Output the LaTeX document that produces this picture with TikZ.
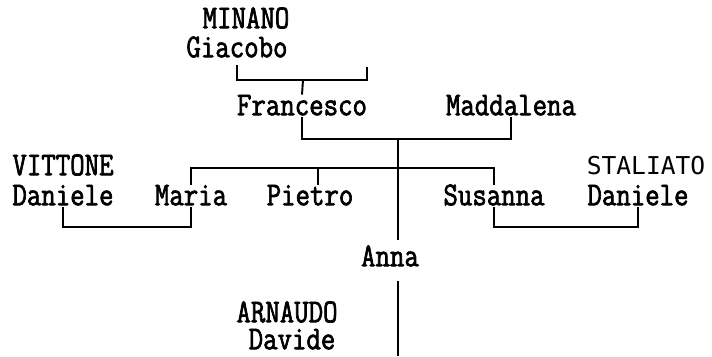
\documentclass[tikz,border=0pt]{standalone}
\usepackage{fontspec}
\setmonofont[FakeStretch=0.84,FakeBold=2]{Latin Modern Mono}
\newfontfamily\sansmono{DejaVu Sans Mono}
\usetikzlibrary{positioning}

\begin{document}
\begin{tikzpicture}[
  x=0.02cm, y=-0.02cm,
  person/.style={font=\fontsize{19}{21}\ttfamily, inner sep=0pt, text height=11.5pt, text depth=1pt},
  altname/.style={font=\fontsize{14}{16}\sansmono, inner sep=0pt},
  tie/.style={line width=1.1pt},
]
\useasboundingbox (0,0) rectangle (712,356);

% ---- grandparents
\node[person] (minano) at (246,19) {MINANO};
\node[person] (giacobo) at (237,48) {Giacobo};
\coordinate (gm) at (303,80);
\coordinate (gs) at (367,67);

% ---- parents
\node[person] (francesco) at (302,106) {Francesco};
\node[person] (maddalena) at (511,106) {Maddalena};
\coordinate (fm) at (398,139);
\coordinate (kids) at (398,168);

% ---- children and spouses
\node[person] (vittone) at (63,166) {VITTONE};
\node[person] (daniele1) at (63,196) {Daniele};
\node[person] (maria) at (191,196) {Maria};
\node[person] (pietro) at (310,196) {Pietro};
\node[person] (susanna) at (494,196) {Susanna};
\node[altname] (staliato) at (646,166) {STALIATO};
\node[person] (daniele2) at (638,196) {Daniele};
\coordinate (dm) at (127,227);
\coordinate (sm) at (566,227);

% ---- Anna
\node[person] (anna) at (390,257) {Anna};
\node[person] (arnaudo) at (287,313) {ARNAUDO};
\node[person] (davide) at (292,340) {Davide};
\coordinate (down) at (398,356);

% ---- lines
\draw[tie] ([yshift=-0.12cm]giacobo.south) |- (gm) -| (gs);
\draw[tie] (gm) -- (francesco.north);
\draw[tie] (francesco.south) |- (fm) -| (maddalena.south);
\draw[tie] (fm) -- ([yshift=0.12cm]fm |- anna.north);
\draw[tie] (maria.north) |- (kids) -| (susanna.north);
\draw[tie] ([xshift=0.16cm]pietro.north) -- ([xshift=0.16cm]pietro.north |- kids);
\draw[tie] (daniele1.south) |- (dm) -| (maria.south);
\draw[tie] (susanna.south) |- (sm) -| (daniele2.south);
\draw[tie] ([yshift=-0.25cm]anna.south -| down) -- (down);
\end{tikzpicture}
\end{document}
